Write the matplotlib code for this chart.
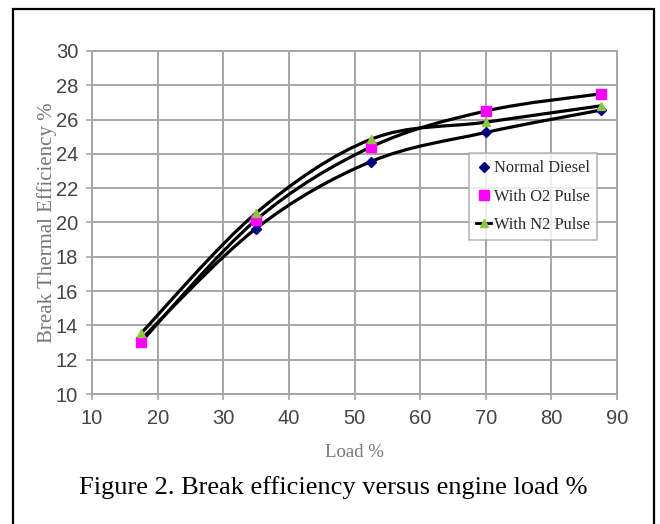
import numpy as np
import matplotlib
matplotlib.use("Agg")
import matplotlib.pyplot as plt
from matplotlib.path import Path
from matplotlib.patches import PathPatch, Rectangle
from matplotlib.lines import Line2D

# data
load = [17.5, 35.0, 52.5, 70.0, 87.5]
normal_diesel = [13.2, 19.65, 23.55, 25.25, 26.55]
o2_pulse = [13.05, 20.15, 24.4, 26.5, 27.5]
n2_pulse = [13.55, 20.55, 24.85, 25.85, 26.8]

series_names = ["Normal Diesel", "With O2 Pulse", "With N2 Pulse"]
xticks = [10, 20, 30, 40, 50, 60, 70, 80, 90]
yticks = [10, 12, 14, 16, 18, 20, 22, 24, 26, 28, 30]

SANS = ["Liberation Sans", "DejaVu Sans"]
SERIF = ["Liberation Serif", "DejaVu Serif"]


def smooth_path(x, y):
    # excel-like smoothed line : cubic bezier through the points
    p = np.column_stack([x, y]).astype(float)
    n = len(p)
    verts = [p[0]]
    codes = [Path.MOVETO]
    for i in range(n - 1):
        p0 = p[i - 1] if i > 0 else p[i]
        p1 = p[i]
        p2 = p[i + 1]
        p3 = p[i + 2] if i + 2 < n else p[i + 1]
        c1 = p1 + (p2 - p0) / 6.
        c2 = p2 - (p3 - p1) / 6.
        verts += [c1, c2, p2]
        codes += [Path.CURVE4] * 3
    return Path(verts, codes)


fig = plt.figure(figsize=(6.6, 5.24), dpi=100)
ax = fig.add_axes([92/660., 1 - 394/524., (617 - 92)/660., (394 - 51)/524.])

gcol = "#a6a6a6"
for yv, marker, col, ms in [(normal_diesel, "D", "#000080", 5.5),
                            (o2_pulse, "s", "#ff00ff", 7.0),
                            (n2_pulse, "^", "#8cc63f", 6.0)]:
    ax.add_patch(PathPatch(smooth_path(load, yv), fill=False, ec="black",
                           lw=2.3, zorder=3))
    ax.plot(load, yv, ls="none", marker=marker, color=col, ms=ms,
            mec=col, zorder=4)

ax.set_xlim(10, 90)
ax.set_ylim(10, 30)
ax.set_xticks(xticks)
ax.set_yticks(yticks)
ax.grid(True, color=gcol, lw=1.4)
ax.set_axisbelow(True)
for s in ax.spines.values():
    s.set_color(gcol)
    s.set_linewidth(1.4)
ax.tick_params(direction="out", length=4, width=1.2, color=gcol,
               labelcolor="#444444", labelsize=14.5)
ax.tick_params(axis="x", pad=7)
ax.tick_params(axis="y", pad=6)
for lab in ax.get_xticklabels() + ax.get_yticklabels():
    lab.set_family(SANS)

ax.set_xlabel("Load %", family=SERIF, fontsize=13.5, color="#777777",
              labelpad=11)
ax.set_ylabel("Break Thermal Efficiency %", family=SERIF, fontsize=15,
              color="#777777", labelpad=-1)

handles = [
    Line2D([], [], ls="none", marker="D", color="#000080", ms=5.5),
    Line2D([], [], ls="none", marker="s", color="#ff00ff", ms=7.0),
    Line2D([], [], ls="-", lw=2.0, marker="^", color="black",
           mfc="#8cc63f", mec="#8cc63f", ms=6.0),
]
leg = ax.legend(handles, series_names, loc="upper left",
                bbox_to_anchor=(469/660., 1 - 153/524.),
                bbox_transform=fig.transFigure,
                prop={"family": SERIF, "size": 11.8}, labelcolor="#2a2a2a",
                frameon=True, fancybox=False, handlelength=0.9,
                handletextpad=0.15, borderpad=0.45, labelspacing=0.75,
                borderaxespad=0)
leg.get_frame().set_edgecolor(gcol)
leg.get_frame().set_linewidth(1.2)

fig.text(333/660., 1 - 488/524., "Figure 2. Break efficiency versus engine load %",
         ha="center", va="center", family=SERIF, fontsize=19, color="black")

# outer frame
fig.add_artist(Rectangle((13/660., -0.05), (654 - 13)/660., 1.05 - 9/524.,
                         transform=fig.transFigure, fill=False, ec="black",
                         lw=1.6))

fig.savefig("out.png", dpi=100)
